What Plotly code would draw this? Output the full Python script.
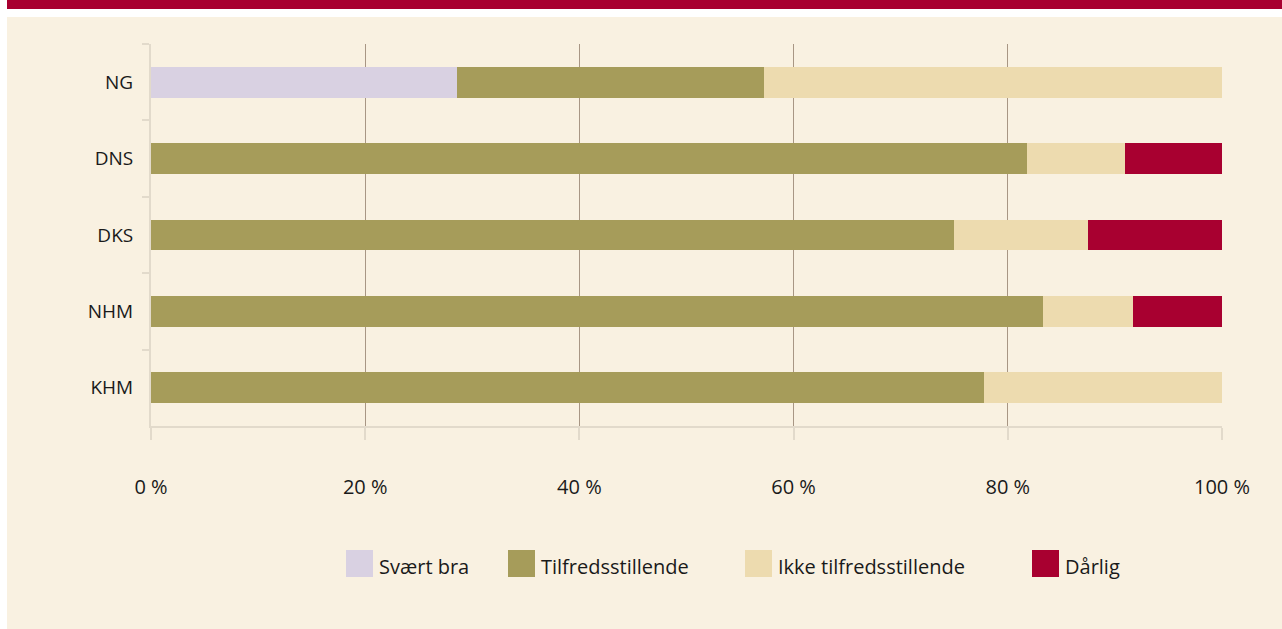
import plotly.graph_objects as go

categories = ["NG", "DNS", "DKS", "NHM", "KHM"]
series_names = ["Svært bra", "Tilfredsstillende", "Ikke tilfredsstillende", "Dårlig"]
svaert_bra = [28.6, 0, 0, 0, 0]
tilfreds = [28.6, 81.8, 75.0, 83.3, 77.8]
ikke_tilfreds = [42.8, 9.1, 12.5, 8.4, 22.2]
daarlig = [0, 9.1, 12.5, 8.3, 0]
colors = ["#D9D1E2", "#A69C5A", "#EDDBAF", "#A80030"]
tick_vals = [0, 20, 40, 60, 80, 100]
tick_text = ["0 %", "20 %", "40 %", "60 %", "80 %", "100 %"]

W, H = 1282, 629
L, R, T, B = 151, 1222, 44, 426


def px(x):
    return (x - L) / (R - L)


def py(y):
    return (B - y) / (B - T)


fig = go.Figure()
for name, vals, col in zip(series_names, [svaert_bra, tilfreds, ikke_tilfreds, daarlig], colors):
    fig.add_trace(go.Bar(
        y=categories, x=vals, name=name, orientation="h",
        marker=dict(color=col, line=dict(width=0)),
        showlegend=False, hoverinfo="x+y+name",
    ))

shapes = [
    # beige panel
    dict(type="rect", xref="paper", yref="paper", x0=px(7), x1=px(1290), y0=py(17), y1=py(640),
         fillcolor="#F9F1E1", line=dict(width=0), layer="below"),
    # red header band
    dict(type="rect", xref="paper", yref="paper", x0=px(7), x1=px(1290), y0=py(9), y1=py(-5),
         fillcolor="#A80030", line=dict(width=0), layer="below"),
]

annotations = []
legend_x = [346, 508, 745, 1032]
for name, col, lx in zip(series_names, colors, legend_x):
    shapes.append(dict(type="rect", xref="paper", yref="paper", x0=px(lx), x1=px(lx + 27),
                       y0=py(577), y1=py(550), fillcolor=col, line=dict(width=0)))
    annotations.append(dict(xref="paper", yref="paper", x=px(lx + 31), y=py(566),
                            text=name, showarrow=False, xanchor="left", yanchor="middle",
                            font=dict(family="Open Sans", size=20, color="#1A1A1A")))

fig.update_layout(
    width=W, height=H,
    barmode="stack",
    bargap=0.595,
    margin=dict(l=L, r=W - R, t=T, b=H - B, autoexpand=False),
    paper_bgcolor="white",
    plot_bgcolor="rgba(0,0,0,0)",
    shapes=shapes,
    annotations=annotations,
    font=dict(family="Open Sans", size=19, color="#1A1A1A"),
    xaxis=dict(
        range=[0, 100], tickvals=tick_vals, ticktext=tick_text,
        showgrid=True, gridcolor="#A89684", gridwidth=1,
        zeroline=False, showline=True, linecolor="#E2DACB", linewidth=2,
        ticks="outside", ticklen=12, tickcolor="#E2DACB", tickwidth=2,
        ticklabelstandoff=30, tickfont=dict(size=20),
        fixedrange=True,
    ),
    yaxis=dict(
        autorange="reversed", type="category",
        showgrid=False, zeroline=False, showline=True, linecolor="#E2DACB", linewidth=2,
        ticks="outside", tickson="boundaries", ticklen=7, tickcolor="#E2DACB", tickwidth=2,
        ticklabelstandoff=12, tickfont=dict(size=19),
        fixedrange=True,
    ),
)

fig.write_html("out.html", config={"displayModeBar": False},
               post_script="document.body.style.margin='0';")
